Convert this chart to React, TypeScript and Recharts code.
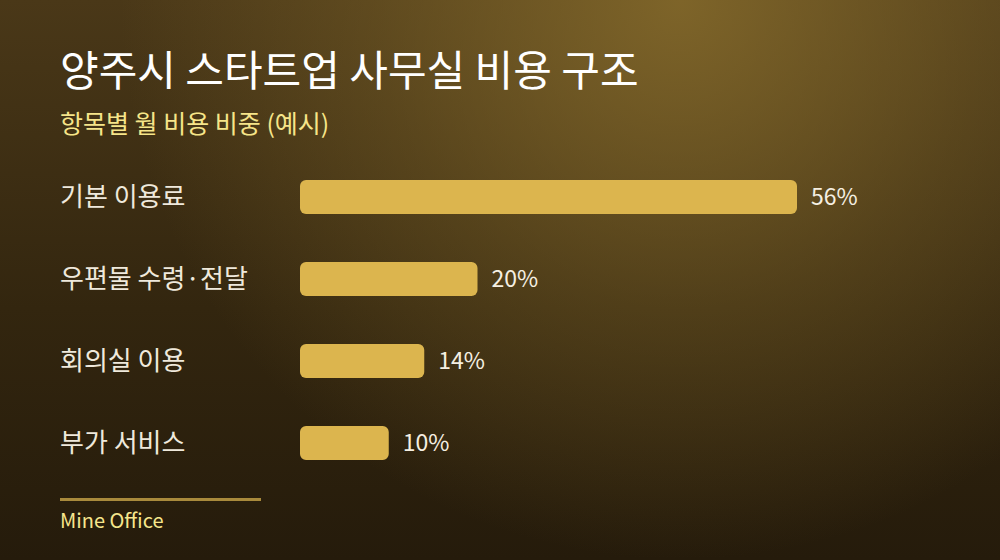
import React from 'react';
import { BarChart, Bar, XAxis, YAxis, LabelList } from 'recharts';

const categories = ['기본 이용료', '우편물 수령·전달', '회의실 이용', '부가 서비스'];
const shares = [56, 20, 14, 10];

const data = categories.map((name, i) => ({ name, share: shares[i] }));

const FONT = '"Noto Sans CJK KR", "Noto Sans", sans-serif';

const CategoryTick = (props: any) => {
    const { y, payload } = props;
    return (
        <text x={60} y={y - 3} textAnchor="start" dominantBaseline="central" fill="#efe9dc" fontSize={26} fontFamily={FONT}>
            {payload.value}
        </text>
    );
};

export default function App() {
    return (
        <div
            style={{
                position: 'absolute',
                left: 0,
                top: 0,
                width: 1000,
                height: 560,
                overflow: 'hidden',
                fontFamily: FONT,
                background:
                    'radial-gradient(circle 560px at 68% 0%, rgba(135,108,44,0.85) 0%, rgba(135,108,44,0.35) 55%, rgba(135,108,44,0) 100%), linear-gradient(180deg, #4a3818 0%, #33260f 55%, #251b0b 100%)'
            }}
        >
            <div style={{ position: 'absolute', left: 60, top: 43, fontSize: 42, color: '#ffffff', lineHeight: 1.2, fontWeight: 400 }}>
                양주시 스타트업 사무실 비용 구조
            </div>
            <div style={{ position: 'absolute', left: 60, top: 107, fontSize: 25, color: '#f6e589', lineHeight: 1.2 }}>
                항목별 월 비용 비중 (예시)
            </div>
            <div style={{ position: 'absolute', top: 0, left: 0 }}>
                <BarChart
                    width={1000}
                    height={560}
                    data={data}
                    layout="vertical"
                    margin={{ top: 156, right: 203, bottom: 76, left: 0 }}
                >
                    <XAxis type="number" domain={[0, 56]} hide />
                    <YAxis
                        type="category"
                        dataKey="name"
                        width={300}
                        axisLine={false}
                        tickLine={false}
                        tick={<CategoryTick />}
                    />
                    <Bar dataKey="share" fill="#dcb54e" barSize={34} radius={6} isAnimationActive={false}>
                        <LabelList
                            dataKey="share"
                            position="right"
                            offset={14}
                            formatter={(v: number) => `${v}%`}
                            fill="#f5efe2"
                            fontSize={23}
                            fontFamily={FONT}
                        />
                    </Bar>
                </BarChart>
            </div>
            <div style={{ position: 'absolute', left: 60, top: 498, width: 201, height: 3, background: '#a98a3c' }} />
            <div style={{ position: 'absolute', left: 60, top: 508, fontSize: 20, color: '#f6e68c', lineHeight: 1.2 }}>
                Mine Office
            </div>
        </div>
    );
}
